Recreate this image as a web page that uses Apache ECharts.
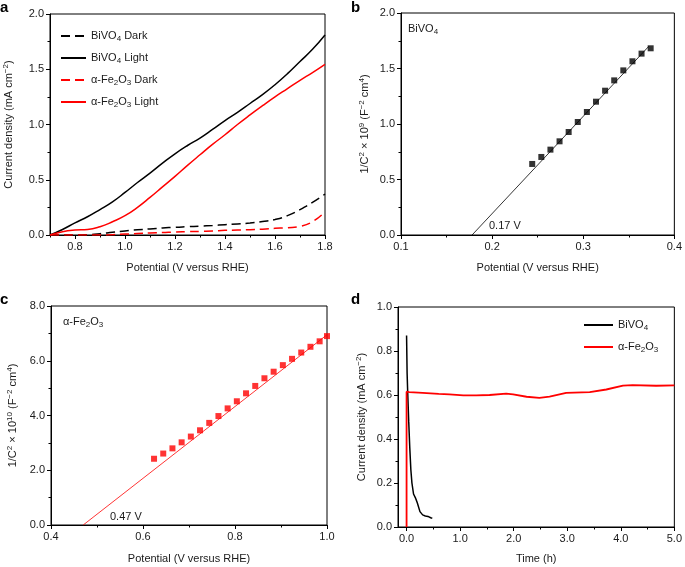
<!DOCTYPE html>
<html><head><meta charset="utf-8">
<script src="https://cdn.jsdelivr.net/npm/echarts@6/dist/echarts.min.js"></script>
<style>html,body{margin:0;padding:0;background:#fff}#c{width:685px;height:567px}</style>
</head><body><div id="c"></div>
<script>
// ---------- Panel a: J–V curves ----------
const aPotential = [0.70,0.75,0.80,0.85,0.90,0.95,1.00,1.05,1.10,1.15,1.20,1.25,1.30,1.35,1.40,1.45,1.50,1.55,1.60,1.65,1.70,1.75,1.80];
const aBiVO4Dark  = [0,0,0,0.003,0.012,0.025,0.037,0.047,0.055,0.063,0.070,0.075,0.080,0.086,0.093,0.100,0.108,0.122,0.140,0.175,0.230,0.295,0.370];
const aBiVO4Light = [0,0.05,0.11,0.165,0.23,0.30,0.385,0.475,0.56,0.65,0.735,0.81,0.877,0.955,1.036,1.11,1.19,1.27,1.36,1.46,1.57,1.68,1.81];
const aFeDark     = [0,0,0,0,0,0.003,0.008,0.013,0.018,0.022,0.027,0.030,0.033,0.037,0.042,0.045,0.048,0.053,0.060,0.066,0.078,0.120,0.210];
const aFeLight    = [0,0.03,0.045,0.05,0.075,0.12,0.175,0.25,0.34,0.435,0.53,0.63,0.726,0.82,0.907,1.0,1.087,1.17,1.25,1.325,1.40,1.47,1.545];

// ---------- Panel b: Mott–Schottky BiVO4 ----------
const bPotential = [0.244,0.254,0.264,0.274,0.284,0.294,0.304,0.314,0.324,0.334,0.344,0.354,0.364,0.374];
const bInvC2     = [0.64,0.703,0.769,0.844,0.928,1.018,1.108,1.201,1.30,1.393,1.483,1.565,1.634,1.682];
const bFitX = [0.178, 0.372];
const bFitY = [0, 1.70];

// ---------- Panel c: Mott–Schottky α-Fe2O3 ----------
const cPotential = [0.624,0.644,0.664,0.684,0.704,0.724,0.744,0.764,0.784,0.804,0.824,0.844,0.864,0.884,0.904,0.924,0.944,0.964,0.984,1.0];
const cInvC2     = [2.42,2.61,2.80,3.02,3.23,3.46,3.73,3.98,4.26,4.52,4.81,5.08,5.36,5.60,5.84,6.07,6.30,6.51,6.71,6.90];
const cFitX = [0.47, 1.0];
const cFitY = [0, 6.95];

// ---------- Panel d: stability ----------
const dBiTime = [0,0.01,0.02,0.04,0.06,0.08,0.10,0.13,0.17,0.20,0.25,0.30,0.33,0.35,0.38,0.40,0.43,0.45,0.48];
const dBiJ    = [0.87,0.70,0.62,0.48,0.36,0.26,0.20,0.15,0.13,0.11,0.07,0.055,0.06,0.05,0.058,0.048,0.05,0.042,0.04];
const dFeTime = [0,0,0.05,0.3,0.6,0.8,1.06,1.3,1.55,1.86,1.99,2.24,2.48,2.67,2.98,3.42,3.73,4.04,4.22,4.66,5.0];
const dFeJ    = [0,0.615,0.613,0.61,0.605,0.603,0.598,0.598,0.6,0.606,0.603,0.592,0.587,0.593,0.61,0.613,0.625,0.643,0.645,0.642,0.644];

// tick values
const aXMajor = [0.8,1.0,1.2,1.4,1.6,1.8], aXMinor = [0.7,0.9,1.1,1.3,1.5,1.7];
const aYMajor = [0,0.5,1.0,1.5,2.0],       aYMinor = [0.25,0.75,1.25,1.75];
const bXMajor = [0.1,0.2,0.3,0.4],         bXMinor = [0.15,0.25,0.35];
const bYMajor = [0,0.5,1.0,1.5,2.0],       bYMinor = [0.25,0.75,1.25,1.75];
const cXMajor = [0.4,0.6,0.8,1.0],         cXMinor = [0.5,0.7,0.9];
const cYMajor = [0,2,4,6,8],               cYMinor = [1,3,5,7];
const dXMajor = [0,1,2,3,4,5],             dXMinor = [0.5,1.5,2.5,3.5,4.5];
const dYMajor = [0,0.2,0.4,0.6,0.8,1.0],   dYMinor = [0.1,0.3,0.5,0.7,0.9];

const zip = (xs, ys) => xs.map((x, i) => [x, ys[i]]);
const FONT = 'Liberation Sans, Arial, Helvetica, sans-serif';
const TXT = '#1a1a1a';
const RED = '#ff0000';
const rich = {
  sub: {fontSize: 8, lineHeight: 8, verticalAlign: 'bottom', fontFamily: FONT, color: TXT},
  sup: {fontSize: 8, lineHeight: 8, verticalAlign: 'top', fontFamily: FONT, color: TXT}
};

function axes(dim, grid, min, max, major, minor, fmt, name, nameGap) {
  const pos = dim === 'x' ? 'bottom' : 'left';
  const main = {
    type: 'value', gridIndex: grid, min, max, position: pos,
    name, nameLocation: 'middle', nameGap,
    nameTextStyle: {fontFamily: FONT, fontSize: 11, color: TXT, lineHeight: 14, rich},
    axisLine: {show: true, onZero: false, lineStyle: {color: '#000', width: 1}},
    axisTick: {show: true, customValues: major, length: 4, lineStyle: {color: '#000'}},
    axisLabel: {show: true, customValues: major, margin: 6, fontFamily: FONT, fontSize: 11, color: TXT,
      formatter: v => fmt(v)},
    splitLine: {show: false}
  };
  const sub = {
    type: 'value', gridIndex: grid, min, max, position: pos,
    axisLine: {show: false, onZero: false},
    axisTick: {show: true, customValues: minor, length: 2.5, lineStyle: {color: '#000'}},
    axisLabel: {show: false},
    splitLine: {show: false}
  };
  return [main, sub];
}
const f1 = v => v.toFixed(1);

const grids = [
  {left: 50, top: 14, width: 275, height: 221},
  {left: 401, top: 13, width: 276, height: 222},
  {left: 51, top: 306, width: 276, height: 221},
  {left: 398, top: 307, width: 277, height: 220}
].map(g => Object.assign(g, {show: true, borderColor: '#000', borderWidth: 1, backgroundColor: 'transparent'}));

const xAxis = [
  ...axes('x', 0, 0.7, 1.8, aXMajor, aXMinor, f1, 'Potential (V versus RHE)', 26),
  ...axes('x', 1, 0.1, 0.4, bXMajor, bXMinor, f1, 'Potential (V versus RHE)', 26),
  ...axes('x', 2, 0.4, 1.0, cXMajor, cXMinor, f1, 'Potential (V versus RHE)', 27),
  ...axes('x', 3, -0.16, 5.0, dXMajor, dXMinor, f1, 'Time (h)', 25)
];
const yAxis = [
  ...axes('y', 0, 0, 2.0, aYMajor, aYMinor, f1, 'Current density (mA cm{sup|−2})', 34),
  ...axes('y', 1, 0, 2.0, bYMajor, bYMinor, f1, '1/C{sup|2} × 10{sup|9} (F{sup|−2} cm{sup|4})', 29),
  ...axes('y', 2, 0, 8.0, cYMajor, cYMinor, f1, '1/C{sup|2} × 10{sup|10} (F{sup|−2} cm{sup|4})', 31),
  ...axes('y', 3, 0, 1.0, dYMajor, dYMinor, f1, 'Current density (mA cm{sup|−2})', 29)
];

const DASH = [9, 5];
const lineS = (name, g, data, color, width, dashed, smooth) => ({
  name, type: 'line', xAxisIndex: 2 * g, yAxisIndex: 2 * g, data,
  symbol: 'none', smooth: smooth, animation: false,
  lineStyle: {color, width, type: dashed ? DASH : 'solid'},
  itemStyle: {color}
});

const series = [
  lineS('BiVO4 Dark', 0, zip(aPotential, aBiVO4Dark), '#000', 1.5, true, true),
  lineS('BiVO4 Light', 0, zip(aPotential, aBiVO4Light), '#000', 1.5, false, true),
  lineS('α-Fe2O3 Dark', 0, zip(aPotential, aFeDark), RED, 1.5, true, true),
  lineS('α-Fe2O3 Light', 0, zip(aPotential, aFeLight), RED, 1.5, false, true),
  lineS('b fit', 1, zip(bFitX, bFitY), '#000', 0.8, false, false),
  {name: 'b data', type: 'scatter', xAxisIndex: 2, yAxisIndex: 2, data: zip(bPotential, bInvC2),
   symbol: 'rect', symbolSize: 6, itemStyle: {color: '#000'}, animation: false},
  lineS('c fit', 2, zip(cFitX, cFitY), RED, 0.8, false, false),
  {name: 'c data', type: 'scatter', xAxisIndex: 4, yAxisIndex: 4, data: zip(cPotential, cInvC2),
   symbol: 'rect', symbolSize: 6, itemStyle: {color: RED}, animation: false, clip: false},
  lineS('BiVO4', 3, zip(dBiTime, dBiJ), '#000', 1.5, false, false),
  lineS('α-Fe2O3', 3, zip(dFeTime, dFeJ), RED, 1.8, false, false)
];

const legendNames = {
  'BiVO4 Dark': 'BiVO{sub|4} Dark', 'BiVO4 Light': 'BiVO{sub|4} Light',
  'α-Fe2O3 Dark': 'α-Fe{sub|2}O{sub|3} Dark', 'α-Fe2O3 Light': 'α-Fe{sub|2}O{sub|3} Light',
  'BiVO4': 'BiVO{sub|4}', 'α-Fe2O3': 'α-Fe{sub|2}O{sub|3}'
};
const legendBase = {
  orient: 'vertical', itemHeight: 14, itemGap: 8, selectedMode: false,
  itemStyle: {opacity: 0},
  formatter: n => legendNames[n],
  textStyle: {fontFamily: FONT, fontSize: 11, color: TXT, lineHeight: 14, rich}
};

const txt = (text, x, y, extra) => ({
  type: 'text', x, y,
  style: Object.assign({text, fill: TXT, fontFamily: FONT, fontSize: 11, lineHeight: 14, rich}, extra || {})
});
const letter = (t, x, y) => txt(t, x, y, {fontSize: 15, fontWeight: 'bold', fill: '#000'});

const chart = echarts.init(document.getElementById('c'));
chart.setOption({
  backgroundColor: '#fff',
  animation: false,
  grid: grids,
  xAxis, yAxis, series,
  legend: [
    Object.assign({}, legendBase, {left: 55, top: 24, itemWidth: 25,
      data: ['BiVO4 Dark', 'BiVO4 Light', 'α-Fe2O3 Dark', 'α-Fe2O3 Light']}),
    Object.assign({}, legendBase, {left: 578, top: 313, itemWidth: 29, data: ['BiVO4', 'α-Fe2O3']})
  ],
  graphic: [
    letter('a', 0, 1), letter('b', 351, 1), letter('c', 0, 293), letter('d', 351, 293),
    txt('BiVO{sub|4}', 408, 22),
    txt('α-Fe{sub|2}O{sub|3}', 63, 315),
    txt('0.17 V', 489, 219),
    txt('0.47 V', 110, 510)
  ]
});
</script></body></html>
